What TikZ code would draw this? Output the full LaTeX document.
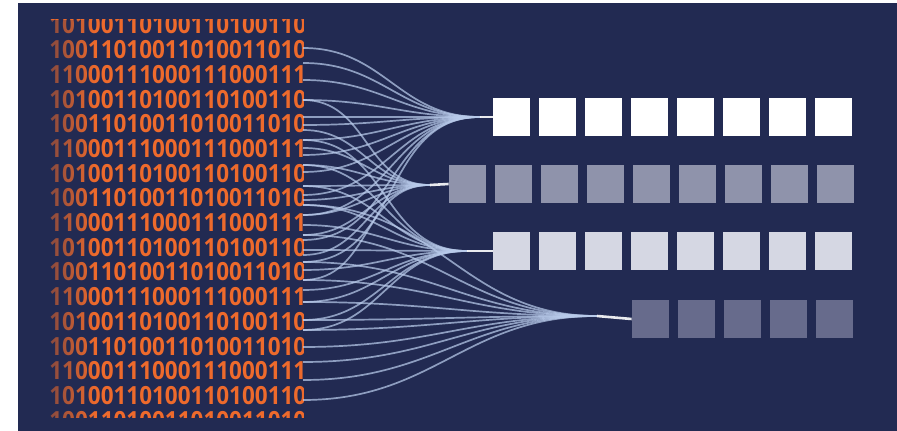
\documentclass[tikz,border=0pt]{standalone}
\usepackage{fontspec}
\newfontfamily\bitfont{Open Sans}
\usetikzlibrary{fadings}
\definecolor{navy}{RGB}{34,42,82}
\definecolor{bitorange}{RGB}{238,106,44}
\definecolor{wirecol}{RGB}{185,203,235}
\definecolor{rowa}{RGB}{255,255,255}
\definecolor{rowb}{RGB}{143,147,171}
\definecolor{rowc}{RGB}{213,215,227}
\definecolor{rowd}{RGB}{103,107,140}
\tikzset{bits/.style={anchor=west,inner sep=0pt,xscale=0.9,text=bitorange,font=\bitfont\bfseries\fontsize{12.5}{12.5}\selectfont}}
\tikzset{wire/.style={draw=wirecol,line width=0.85pt,opacity=0.72,looseness=1.1}}
\tikzset{stem/.style={draw=white,line width=1.3pt,opacity=0.9}}
\tikzset{cell/.style={minimum width=18.5pt,minimum height=19pt,inner sep=0pt}}

\begin{document}
\begin{tikzpicture}[x=0.5pt,y=-0.5pt]

	  \useasboundingbox (0,0) rectangle (897,431);
	  \fill [white] (0,0) rectangle (897,431);
	  \fill [navy] (18,3) rectangle (897,431);

	  % columns of bits
	  \begin{scope}
	  \clip (18,20) rectangle (303,418);
	  \foreach \n in {0,...,16} {
	    \pgfmathtruncatemacro{\k}{mod(\n,3)}
	    \ifcase\k \def\bitrow{1010011010011010011010}\or
	      \def\bitrow{1001101001101001101001}\or
	      \def\bitrow{1100011100011100011100}\fi
	    \node [bits] (b\n) at (49,25+24.7*\n) {\bitrow};
	  }
	  \fill [navy,opacity=0.6,path fading=east] (40,20) rectangle (95,418);
	  \end{scope}

	  % start points at the edge of the bits
	  \foreach \y in {48,63,80,100,117,125,130,140,148,155,165,172,186,195,200,205,215,225,235,240,250,255,262,270,280,290,302,320,330,347,362,380,400}
	    \coordinate (s\y) at (303,\y);

	  % hubs in front of the rows
	  \coordinate (h1) at (480,117);
	  \coordinate (h2) at (430,185);
	  \coordinate (h3) at (467,251);
	  \coordinate (h4) at (597,316);

	  % rows of cells
	  \foreach \c in {1,...,8}
	    \node [cell,fill=rowa] (ra\c) at (465.5+46*\c,117) {};
	  \foreach \c in {1,...,9}
	    \node [cell,fill=rowb] (rb\c) at (421.5+46*\c,184) {};
	  \foreach \c in {1,...,8}
	    \node [cell,fill=rowc] (rc\c) at (465.5+46*\c,251) {};
	  \foreach \c in {1,...,5}
	    \node [cell,fill=rowd] (rd\c) at (604.5+46*\c,319) {};

	  % wires
	  \foreach \y in {48,63,80,100,117,125,140,155,172,195,215,240,262}
	    \draw [wire] (s\y) to[out=0,in=180] (h1);
	  \foreach \y in {100,130,148,165,186,200,215,235,255,280}
	    \draw [wire] (s\y) to[out=0,in=180] (h2);
	  \foreach \y in {140,165,186,205,225,250,270,290,302,320,330}
	    \draw [wire] (s\y) to[out=0,in=180] (h3);
	  \foreach \y in {205,235,262,280,302,320,330,347,362,380,400}
	    \draw [wire] (s\y) to[out=0,in=180] (h4);

	  \draw [stem] (h1) -- (ra1.west);
	  \draw [stem] (h2) -- (rb1.west);
	  \draw [stem] (h3) -- (rc1.west);
	  \draw [stem] (h4) -- (rd1.west);

\end{tikzpicture}
\end{document}
